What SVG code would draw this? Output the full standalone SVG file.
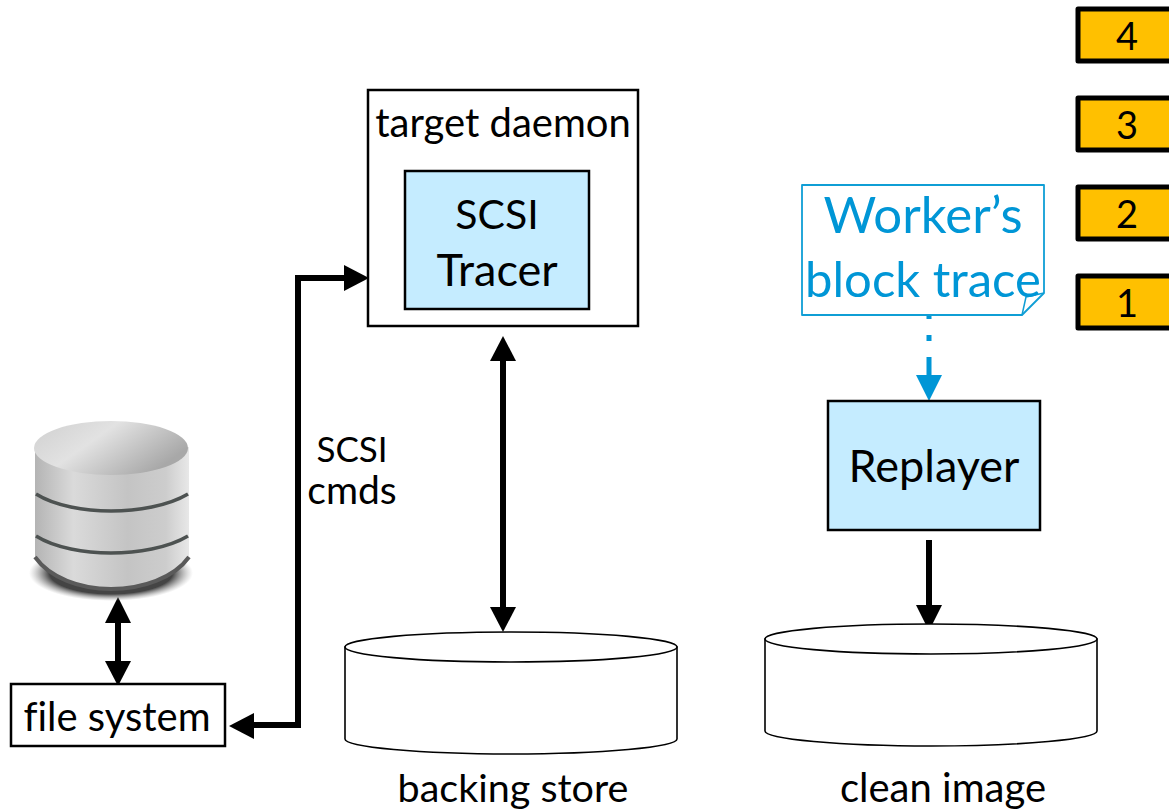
<svg xmlns="http://www.w3.org/2000/svg" width="1169" height="812" viewBox="0 0 1169 812">
<style>
text{font-family:Lato,"Open Sans","Liberation Sans",sans-serif;fill:#000;text-anchor:middle;font-variant-ligatures:none}
.box{stroke:#000;stroke-width:2.5}
.blue{fill:#c5ecff}
.num{fill:#ffc000;stroke:#000;stroke-width:5;stroke-linejoin:round}
.disk{fill:#fff;stroke:#000;stroke-width:1.6}
.conn{fill:none;stroke:#000;stroke-width:6}
</style>
<defs>
<linearGradient id="cyl" x1="0" x2="1" y1="0" y2="0">
<stop offset="0" stop-color="#b4b4b4"/><stop offset="0.25" stop-color="#dadada"/><stop offset="0.6" stop-color="#c4c4c4"/><stop offset="0.85" stop-color="#cdcdcd"/><stop offset="1" stop-color="#e8e8e8"/>
</linearGradient>
<linearGradient id="top" x1="0" x2="1" y1="0" y2="0.5">
<stop offset="0" stop-color="#cfcfcf"/><stop offset="0.45" stop-color="#e2e2e2"/><stop offset="1" stop-color="#a8a8a8"/>
</linearGradient>
<radialGradient id="shadow" cx="0.5" cy="0.5" r="0.5">
<stop offset="0.75" stop-color="#444"/><stop offset="1" stop-color="#999" stop-opacity="0"/>
</radialGradient>
</defs>
<g id="connectors">
<path class="conn" d="M298 727V278H346"/>
<polygon points="369,278 344,265 344,291"/>
<path class="conn" d="M301 725H250"/>
<polygon points="229,726 254,713 254,739"/>
<path class="conn" d="M503 358V610"/>
<polygon points="503,336 490,361 516,361"/>
<polygon points="503,632 490,607 516,607"/>
<path class="conn" d="M118 618V665"/>
<polygon points="118,597 105,623 131,623"/>
<polygon points="118,686 105,661 131,661"/>
<path class="conn" d="M929 540V608"/>
<polygon points="929,631 916,605 942,605"/>
<path fill="none" stroke="#0096d6" stroke-width="5" d="M929 315V319M929 335V341M929 357V380"/>
<polygon fill="#0096d6" points="929,401 916,375 942,375"/>
</g>
<g id="database">
<ellipse cx="111" cy="573" rx="82" ry="28" fill="url(#shadow)"/>
<path d="M35 447V557C48 575 80 590 111 590C142 590 176 575 189 557V447Z" fill="url(#cyl)"/>
<ellipse cx="111" cy="448" rx="77" ry="27" fill="url(#top)"/>
<path d="M35 557C50 578 80 589 111 589C142 589 174 578 189 557" fill="none" stroke="#5a5a5a" stroke-width="4"/>
<path d="M36 494C55 506 85 511 111 511C137 511 168 506 188 494" fill="none" stroke="#4d5251" stroke-width="3.5"/>
<path d="M36 536C55 548 85 553 111 553C137 553 168 548 188 536" fill="none" stroke="#4d5251" stroke-width="3.5"/>
</g>
<g id="file-system">
<rect class="box" x="11" y="684" width="214" height="62" fill="#fff"/>
<text x="117" y="731" font-size="40">file system</text>
</g>
<g id="target-daemon">
<rect class="box" x="368" y="90" width="270" height="236" fill="#fff"/>
<text x="503" y="137" font-size="40">target daemon</text>
</g>
<g id="scsi-tracer">
<rect class="box blue" x="405" y="171" width="184" height="138"/>
<text x="497" y="229" font-size="41">SCSI</text>
<text x="497" y="286" font-size="45">Tracer</text>
</g>
<g id="scsi-cmds">
<text x="352" y="462" font-size="35">SCSI</text>
<text x="352" y="504" font-size="39">cmds</text>
</g>
<g id="backing-store">
<path class="disk" d="M345 647V739C345 747 420 754 511 754C602 754 677 747 677 739V647Z"/>
<ellipse class="disk" cx="511" cy="647" rx="166" ry="15"/>
<text x="513" y="802" font-size="39.5">backing store</text>
</g>
<g id="clean-image">
<path class="disk" d="M765 639V731C765 739 840 746 931 746C1022 746 1097 739 1097 731V639Z"/>
<ellipse class="disk" cx="931" cy="639" rx="166" ry="15"/>
<text x="943" y="802" font-size="40">clean image</text>
</g>
<g id="replayer">
<rect class="box blue" x="828" y="401" width="212" height="129"/>
<text x="934" y="482" font-size="45">Replayer</text>
</g>
<g id="worker-trace">
<path d="M802 185H1044V293L1022 315H802Z" fill="#fff" stroke="#0f9ed5" stroke-width="1.8" stroke-linejoin="round"/>
<path d="M1044 293L1026 297L1022 315" fill="none" stroke="#0f9ed5" stroke-width="1.5"/>
<text x="923" y="233" font-size="51" style="fill:#0096d6">Worker’s</text>
<text x="923" y="297" font-size="49" style="fill:#0096d6">block trace</text>
</g>
<g id="step-4"><rect class="num" x="1078" y="9" width="100" height="52"/><text x="1127" y="50" font-size="38">4</text></g>
<g id="step-3"><rect class="num" x="1078" y="98" width="100" height="52"/><text x="1127" y="139" font-size="38">3</text></g>
<g id="step-2"><rect class="num" x="1078" y="187" width="100" height="52"/><text x="1127" y="228" font-size="38">2</text></g>
<g id="step-1"><rect class="num" x="1078" y="276" width="100" height="52"/><text x="1127" y="317" font-size="38">1</text></g>
</svg>
